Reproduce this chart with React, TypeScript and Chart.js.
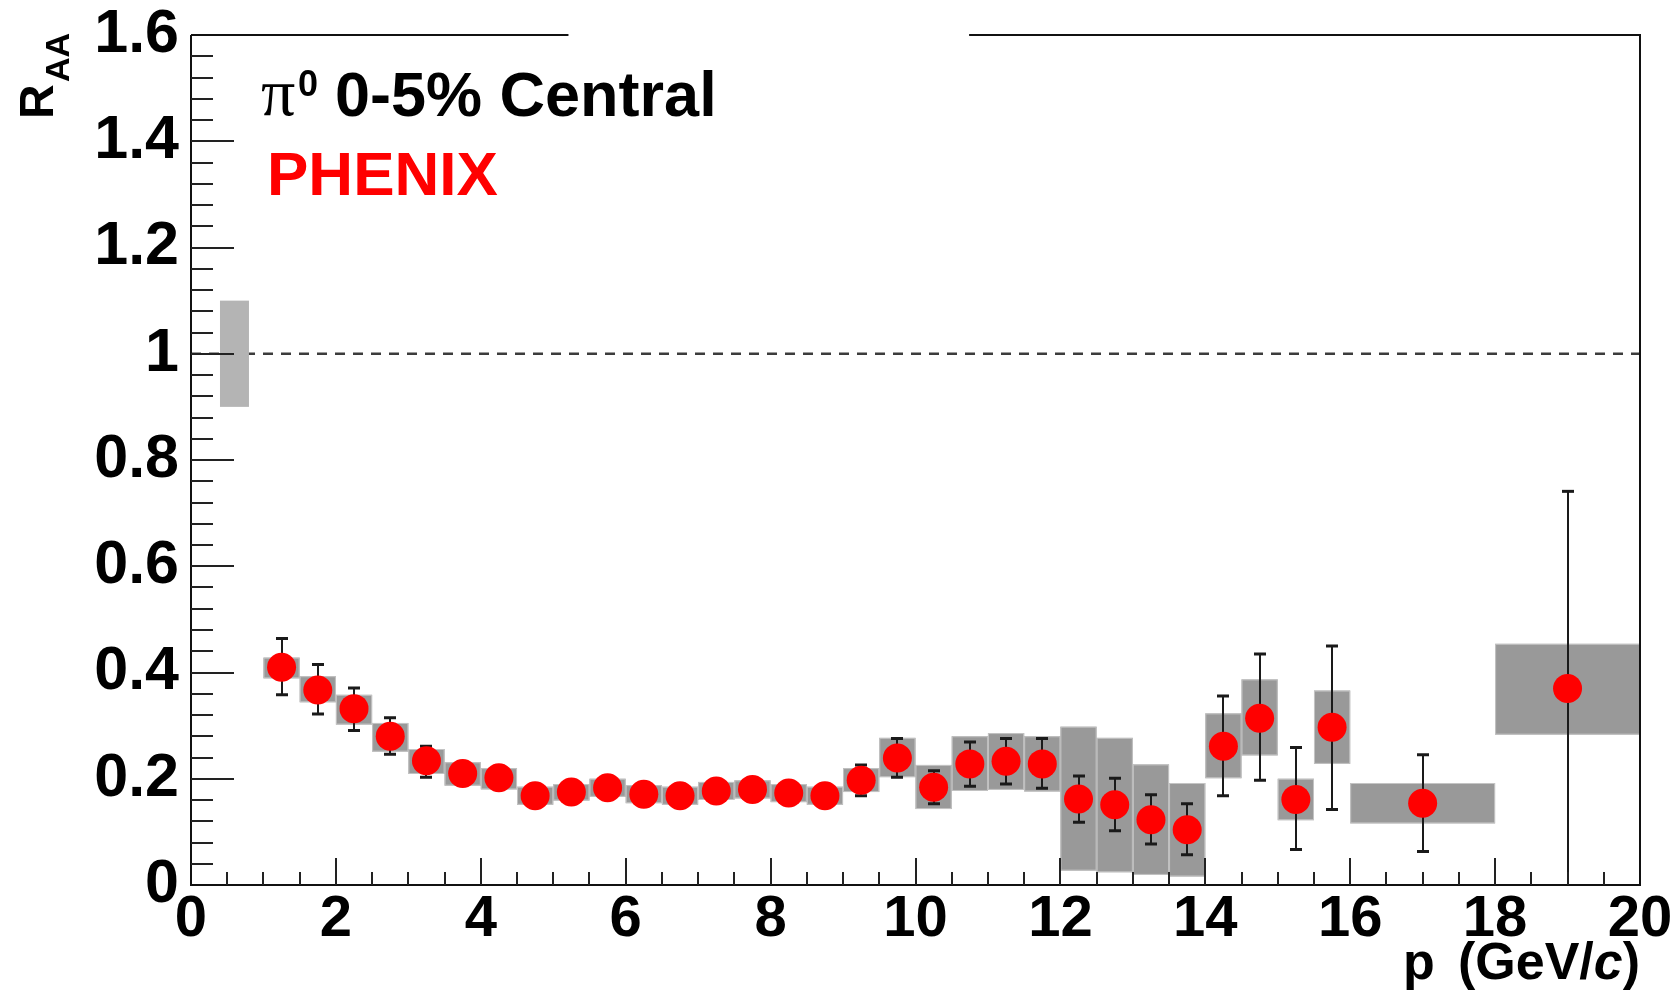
import React, { useEffect, useRef } from "react";
import { Chart, registerables } from "chart.js";

Chart.register(...registerables);

// ---------- data ----------
const ptCenter = [1.25, 1.75, 2.25, 2.75, 3.25, 3.75, 4.25, 4.75, 5.25, 5.75, 6.25, 6.75, 7.25, 7.75, 8.25, 8.75, 9.25, 9.75, 10.25, 10.75, 11.25, 11.75, 12.25, 12.75, 13.25, 13.75, 14.25, 14.75, 15.25, 15.75, 17, 19];
const binLow = [1.0, 1.5, 2.0, 2.5, 3.0, 3.5, 4.0, 4.5, 5.0, 5.5, 6.0, 6.5, 7.0, 7.5, 8.0, 8.5, 9.0, 9.5, 10.0, 10.5, 11.0, 11.5, 12.0, 12.5, 13.0, 13.5, 14.0, 14.5, 15.0, 15.5, 16, 18];
const binHigh = [1.5, 2.0, 2.5, 3.0, 3.5, 4.0, 4.5, 5.0, 5.5, 6.0, 6.5, 7.0, 7.5, 8.0, 8.5, 9.0, 9.5, 10.0, 10.5, 11.0, 11.5, 12.0, 12.5, 13.0, 13.5, 14.0, 14.5, 15.0, 15.5, 16.0, 18, 20];
const raa = [0.410, 0.367, 0.332, 0.280, 0.234, 0.210, 0.202, 0.168, 0.175, 0.183, 0.171, 0.168, 0.177, 0.180, 0.173, 0.168, 0.197, 0.239, 0.184, 0.228, 0.233, 0.228, 0.162, 0.151, 0.123, 0.104, 0.261, 0.314, 0.161, 0.297, 0.154, 0.370];
const statHigh = [0.464, 0.415, 0.371, 0.315, 0.261, 0.222, 0.212, 0.176, 0.183, 0.191, 0.179, 0.176, 0.185, 0.188, 0.181, 0.176, 0.226, 0.276, 0.215, 0.269, 0.276, 0.276, 0.205, 0.201, 0.170, 0.153, 0.356, 0.435, 0.259, 0.450, 0.245, 0.741];
const statLow = [0.358, 0.322, 0.291, 0.246, 0.203, 0.198, 0.192, 0.160, 0.167, 0.175, 0.163, 0.160, 0.169, 0.172, 0.165, 0.160, 0.168, 0.203, 0.153, 0.186, 0.190, 0.182, 0.118, 0.102, 0.077, 0.057, 0.168, 0.197, 0.067, 0.142, 0.063, 0.0];
const sysHigh = [0.428, 0.393, 0.358, 0.305, 0.256, 0.231, 0.220, 0.185, 0.190, 0.200, 0.188, 0.185, 0.194, 0.197, 0.190, 0.185, 0.220, 0.277, 0.226, 0.280, 0.286, 0.280, 0.298, 0.277, 0.227, 0.192, 0.323, 0.387, 0.200, 0.366, 0.192, 0.454];
const sysLow = [0.389, 0.344, 0.302, 0.251, 0.209, 0.187, 0.180, 0.151, 0.159, 0.166, 0.154, 0.151, 0.160, 0.163, 0.156, 0.151, 0.175, 0.203, 0.143, 0.177, 0.179, 0.176, 0.027, 0.024, 0.019, 0.016, 0.201, 0.244, 0.122, 0.228, 0.116, 0.283];
// global normalisation uncertainty box
const globalBoxX = [0.4, 0.8];
const globalBoxY = [0.9, 1.1];
// reference line R_AA = 1
const refLineX = [0, 20];
const refLineY = [1, 1];
// gap in top frame (hidden legend region), in x units
const topGap = [5.21, 10.74];

const FONT = '"Liberation Sans", Arial, Helvetica, sans-serif';

function fmtY(v: number) {
  const r = Math.round(v * 10) / 10;
  return String(r);
}

const phenixPlugin = {
  id: "phenixDecor",
  beforeDatasetsDraw(chart: any) {
    const { ctx, chartArea: ca } = chart;
    const x = chart.scales.x;
    const y = chart.scales.y;
    ctx.save();
    ctx.beginPath();
    ctx.rect(ca.left, ca.top, ca.right - ca.left, ca.bottom - ca.top);
    ctx.clip();
    // systematic boxes
    for (let i = 0; i < ptCenter.length; i++) {
      const x0 = x.getPixelForValue(binLow[i]);
      const x1 = x.getPixelForValue(binHigh[i]);
      const y0 = y.getPixelForValue(sysHigh[i]);
      const y1 = y.getPixelForValue(sysLow[i]);
      ctx.fillStyle = "#999999";
      ctx.fillRect(x0, y0, x1 - x0, y1 - y0);
      ctx.strokeStyle = "#c4c4c4";
      ctx.lineWidth = 1;
      ctx.strokeRect(x0 + 0.5, y0 + 0.5, x1 - x0 - 1, y1 - y0 - 1);
    }
    // statistical error bars
    ctx.strokeStyle = "#1a1a1a";
    ctx.lineWidth = 2;
    for (let i = 0; i < ptCenter.length; i++) {
      const px = Math.round(x.getPixelForValue(ptCenter[i]));
      const yt = y.getPixelForValue(statHigh[i]);
      const yb = y.getPixelForValue(statLow[i]);
      ctx.beginPath();
      ctx.moveTo(px, yt);
      ctx.lineTo(px, yb);
      ctx.stroke();
      ctx.lineWidth = 3;
      ctx.beginPath();
      ctx.moveTo(px - 6, yt);
      ctx.lineTo(px + 6, yt);
      if (statLow[i] > 0) {
        ctx.moveTo(px - 6, yb);
        ctx.lineTo(px + 6, yb);
      }
      ctx.stroke();
      ctx.lineWidth = 2;
    }
    ctx.restore();
  },
  afterDatasetsDraw(chart: any) {
    const { ctx } = chart;
    const x = chart.scales.x;
    const y = chart.scales.y;
    ctx.save();
    const gx0 = x.getPixelForValue(globalBoxX[0]);
    const gx1 = x.getPixelForValue(globalBoxX[1]);
    const gy0 = y.getPixelForValue(globalBoxY[1]);
    const gy1 = y.getPixelForValue(globalBoxY[0]);
    ctx.fillStyle = "#b4b4b4";
    ctx.fillRect(gx0, gy0, gx1 - gx0, gy1 - gy0);
    ctx.restore();
  },
  afterDraw(chart: any) {
    const { ctx, chartArea: ca } = chart;
    const x = chart.scales.x;
    const y = chart.scales.y;
    ctx.save();
    // frame
    ctx.strokeStyle = "#111";
    ctx.lineWidth = 2;
    ctx.beginPath();
    ctx.moveTo(ca.left, ca.top);
    ctx.lineTo(ca.left, ca.bottom);
    ctx.lineTo(ca.right, ca.bottom);
    ctx.lineTo(ca.right, ca.top);
    ctx.lineTo(x.getPixelForValue(topGap[1]), ca.top);
    ctx.moveTo(x.getPixelForValue(topGap[0]), ca.top);
    ctx.lineTo(ca.left, ca.top);
    ctx.stroke();
    // y ticks
    ctx.strokeStyle = "#222";
    ctx.beginPath();
    for (let k = 1; k < 40; k++) {
      const v = k * 0.04;
      const py = Math.round(y.getPixelForValue(v));
      const len = k % 5 === 0 ? 43 : 22;
      ctx.moveTo(ca.left, py);
      ctx.lineTo(ca.left + len, py);
    }
    // x ticks
    for (let k = 1; k < 40; k++) {
      const v = k * 0.5;
      const px = Math.round(x.getPixelForValue(v));
      const len = k % 4 === 0 ? 27 : 13;
      ctx.moveTo(px, ca.bottom);
      ctx.lineTo(px, ca.bottom - len);
    }
    ctx.stroke();

    // annotations
    ctx.fillStyle = "#000";
    ctx.textAlign = "left";
    ctx.textBaseline = "alphabetic";
    ctx.font = '68px "Liberation Serif", "DejaVu Serif", serif';
    ctx.fillText("\u03c0", 261, 115);
    ctx.font = `bold 36px ${FONT}`;
    ctx.fillText("0", 298, 96);
    ctx.font = `bold 63px ${FONT}`;
    ctx.fillText("0-5% Central", 335, 116);
    ctx.fillStyle = "#ff0000";
    ctx.font = `bold 62px ${FONT}`;
    ctx.fillText("PHENIX", 267, 195);

    // y title R_AA
    ctx.fillStyle = "#000";
    ctx.save();
    ctx.translate(53, 119);
    ctx.rotate(-Math.PI / 2);
    ctx.font = `bold 48px ${FONT}`;
    ctx.fillText("R", 0, 0);
    ctx.font = `bold 34px ${FONT}`;
    ctx.fillText("AA", 37, 16);
    ctx.restore();

    // x title
    const base = 979;
    ctx.font = `bold 52px ${FONT}`;
    const w1 = ctx.measureText("(GeV/").width;
    const w3 = ctx.measureText(")").width;
    ctx.font = `italic bold 52px ${FONT}`;
    const w2 = ctx.measureText("c").width;
    const sx = ca.right - (w1 + w2 + w3);
    ctx.font = `bold 52px ${FONT}`;
    ctx.fillText("(GeV/", sx, base);
    ctx.font = `italic bold 52px ${FONT}`;
    ctx.fillText("c", sx + w1, base);
    ctx.font = `bold 52px ${FONT}`;
    ctx.fillText(")", sx + w1 + w2, base);
    ctx.fillText("p", 1403, base);
    ctx.restore();
  },
};

export default function App() {
  const ref = useRef<HTMLCanvasElement | null>(null);
  useEffect(() => {
    if (!ref.current) return;
    const chart = new Chart(ref.current, {
      type: "scatter",
      data: {
        datasets: [
          {
            label: "ref",
            data: refLineX.map((v, i) => ({ x: v, y: refLineY[i] })),
            showLine: true,
            borderColor: "#3c3c3c",
            borderWidth: 2.5,
            borderDash: [10, 8],
            pointRadius: 0,
            fill: false,
          } as any,
          {
            label: "pi0",
            data: ptCenter.map((v, i) => ({ x: v, y: raa[i] })),
            pointRadius: 14.5,
            pointStyle: "circle",
            backgroundColor: "#ff0000",
            borderWidth: 0,
            pointBorderWidth: 0,
            showLine: false,
          } as any,
        ],
      },
      options: {
        responsive: false,
        animation: false,
        events: [],
        layout: { autoPadding: false, padding: { top: 35, right: 39, left: 0, bottom: 0 } } as any,
        plugins: { legend: { display: false }, tooltip: { enabled: false } },
        scales: {
          x: {
            type: "linear",
            min: 0,
            max: 20,
            grid: { display: false, drawTicks: false },
            border: { display: false },
            ticks: {
              stepSize: 2,
              autoSkip: false,
              maxRotation: 0,
              padding: 0,
              color: "#000",
              font: { family: FONT, size: 58, weight: "bold" },
              callback: (v: any) => String(v),
            },
            afterFit: (s: any) => {
              s.height = 108;
              s.paddingLeft = 0;
              s.paddingRight = 0;
            },
          },
          y: {
            type: "linear",
            min: 0,
            max: 1.6,
            grid: { display: false, drawTicks: false },
            border: { display: false },
            ticks: {
              stepSize: 0.2,
              autoSkip: false,
              padding: 12,
              color: "#000",
              font: { family: FONT, size: 61, weight: "bold", lineHeight: 0.5 },
              callback: (v: any) => fmtY(Number(v)),
            },
            afterFit: (s: any) => {
              s.width = 191;
              s.paddingTop = 0;
              s.paddingBottom = 0;
            },
          },
        },
      } as any,
      plugins: [phenixPlugin],
    });
    return () => chart.destroy();
  }, []);
  return (
    <div style={{ position: "fixed", left: 0, top: 0, width: 1679, height: 993, background: "#fff" }}>
      <canvas ref={ref} width={1679} height={993} style={{ width: 1679, height: 993, display: "block" }} />
    </div>
  );
}
